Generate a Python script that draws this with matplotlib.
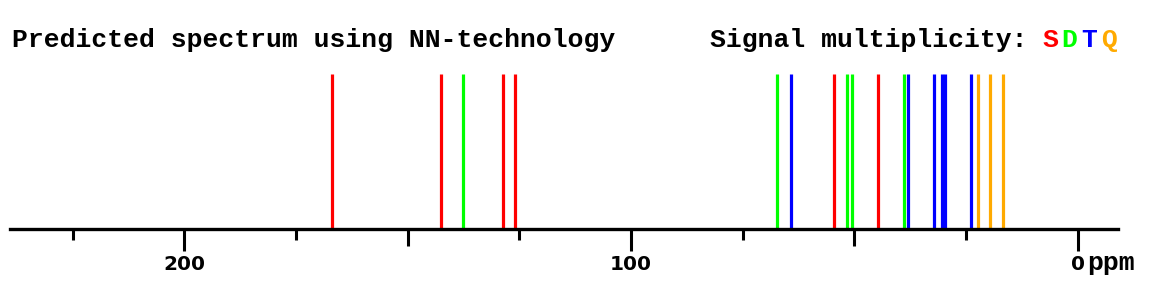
import matplotlib
matplotlib.use("Agg")
import matplotlib.pyplot as plt
import matplotlib.transforms as mtransforms

# Data (chemical shifts, ppm)
singlets = [167.0, 142.6, 128.7, 126.0, 54.5, 44.8]
doublets = [137.7, 67.4, 51.6, 50.5, 38.8]
triplets = [64.2, 38.1, 32.2, 30.3, 29.7, 24.0]
quartets = [22.3, 19.7, 16.8]

major_ticks = [200, 100, 0]
major_labels = ["200", "100", "0"]
medium_ticks = [150, 50]
minor_ticks = [225, 175, 125, 75, 25]

colors = {"S": "#FF0000", "D": "#00FF00", "T": "#0000FF", "Q": "#FFAA00"}

W, H = 1173, 290
fig = plt.figure(figsize=(W / 100, H / 100), dpi=100)
ax = fig.add_axes([10 / W, (H - 229) / H, 1108 / W, (229 - 74) / H])
ax.set_xlim(239, -9)
ax.set_ylim(0, 1)

lw = 2.3
ax.vlines(singlets, 0, 1, color=colors["S"], lw=lw)
ax.vlines(doublets, 0, 1, color=colors["D"], lw=lw)
ax.vlines(triplets, 0, 1, color=colors["T"], lw=lw)
ax.vlines(quartets, 0, 1, color=colors["Q"], lw=lw)

for s in ["top", "left", "right"]:
    ax.spines[s].set_visible(False)
ax.spines["bottom"].set_linewidth(2.4)
ax.spines["bottom"].set_zorder(5)
ax.set_yticks([])

ax.set_xticks(major_ticks)
ax.set_xticklabels(major_labels)
ax.set_xticks(minor_ticks, minor=True)
ax.tick_params(axis="x", which="major", length=15.5, width=2.2, pad=3,
               labelsize=14.5)
ax.tick_params(axis="x", which="minor", length=8, width=2.2)
for lab in ax.get_xticklabels():
    lab.set_fontfamily("DejaVu Sans")
    lab.set_fontweight("bold")

sec = ax.secondary_xaxis("bottom")
sec.set_xticks(medium_ticks)
sec.set_xticklabels([])
sec.tick_params(axis="x", length=12, width=2.2)
sec.spines["bottom"].set_visible(False)

mono = dict(family="Liberation Mono", weight="bold", size=19)
ax.annotate("ppm", xy=(0, 0), xycoords=("data", "axes fraction"),
            xytext=(6.5, -29.5), textcoords="offset points",
            ha="left", va="baseline", **mono)

ty = 1 - 47 / H
fig.text(12 / W, ty, "Predicted spectrum using NN-technology",
         va="baseline", ha="left", **mono)
prefix = "Signal multiplicity: "
fig.text(710 / W, ty, prefix, va="baseline", ha="left", **mono)
pitch_px = 19.7
for i, k in enumerate(["S", "D", "T", "Q"]):
    tr = mtransforms.offset_copy(fig.transFigure, fig=fig,
                                 x=i * pitch_px, y=0, units="dots")
    fig.text(1042 / W, ty, k, va="baseline", ha="left", color=colors[k],
             transform=tr, **mono)

fig.savefig("out.png", dpi=100)
